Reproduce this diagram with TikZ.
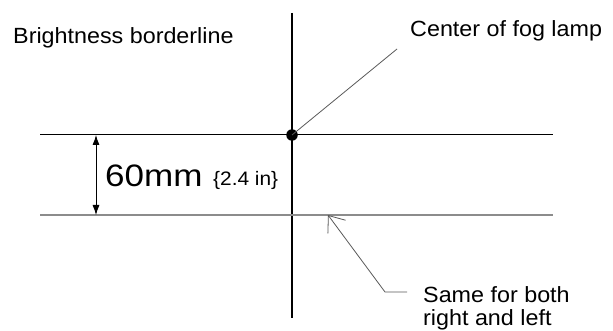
\documentclass[tikz,border=0pt]{standalone}
\usepackage{fontspec}
\setmainfont{Liberation Sans}
\usetikzlibrary{arrows.meta}
\begin{document}
\begin{tikzpicture}[x=1pt,y=-1pt,
  lbl/.style={inner sep=0pt, font=\fontsize{22}{23}\selectfont, xscale=1.06, anchor=base west},
  leader/.style={draw=black!65, line width=0.8pt},
  guide/.style={line width=1pt},
]
\useasboundingbox (0,0) rectangle (613,331);
% axes and border lines
\coordinate (vt) at (292,13);
\coordinate (vb) at (292,318);
\draw[line width=2pt] (vt) -- (vb);
\coordinate (tl) at (40,135);
\coordinate (tr) at (553,135);
\draw[guide, black] (tl) -- (tr);
\coordinate (bl) at (40,215);
\coordinate (br) at (553,215);
\draw[guide, black!45, line width=1.3pt] (bl) -- (br);
% centre dot
\node[circle, fill=black, minimum size=11.5pt, inner sep=0pt] (dot) at (292,135) {};
% labels
\node[lbl] (bright) at (13,44) {Brightness borderline};
\node[lbl] (fog) at (410,37) {Center of fog lamp};
\node[lbl] (same1) at (423,302) {Same for both};
\node[lbl] (same2) at (423,325) {right and left};
\node[inner sep=0pt, anchor=base west, font=\fontsize{31}{31}\selectfont, xscale=1.13] (mm) at (105,187) {60mm};
\node[inner sep=0pt, anchor=base west, font=\fontsize{19.5}{19.5}\selectfont, xscale=1.07] (inch) at (213,186) {\{2.4 in\}};
% dimension arrow
\coordinate (at) at (96,135);
\coordinate (ab) at (96,215);
\draw[{Latex[length=10pt,width=7pt]}-{Latex[length=10pt,width=7pt]}, line width=0.8pt] (at) -- (ab);
% leader to fog lamp
\coordinate (fogend) at (397,49);
\draw[leader] (dot.center) -- (fogend);
% leader to "same for both"
\coordinate (tip) at (328,215);
\coordinate (knee) at (385,292);
\coordinate (lend) at (407,292);
\draw[leader, {Straight Barb[length=14pt,width=22pt]}-] (tip) -- (knee) -- (lend);
\end{tikzpicture}
\end{document}
